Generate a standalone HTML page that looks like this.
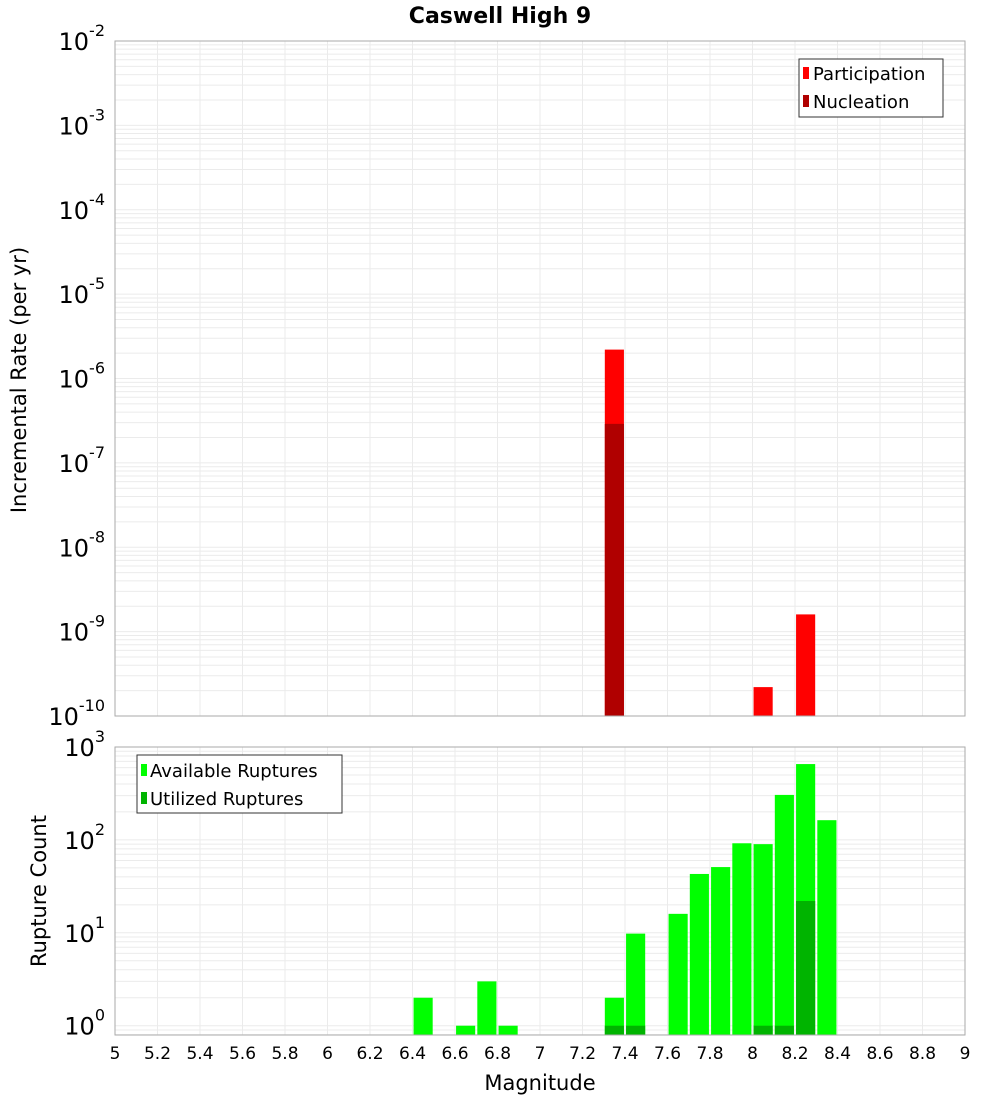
<!DOCTYPE html>
<html><head><meta charset="utf-8"><style>
body{margin:0;background:#fff;}
svg{display:block;font-family:"DejaVu Sans","Liberation Sans",sans-serif;}
</style></head><body>
<svg id="chart" width="1000" height="1100" xmlns="http://www.w3.org/2000/svg"></svg>
<script>
const mags = [6.45,6.65,6.75,6.85,7.35,7.45,7.65,7.75,7.85,7.95,8.05,8.15,8.25,8.35];
const available = [2,1,3,1,2,9.8,16,43,51,92,90,305,655,163];
const utilized = [0,0,0,0,1,1,0,0,0,0,1,1,22,0];
const rateMags = [7.35,8.05,8.25];
const participation = [2.2e-6,2.2e-10,1.6e-9];
const nucleation = [2.9e-7,0,0];
const xTicks = ["5","5.2","5.4","5.6","5.8","6","6.2","6.4","6.6","6.8","7","7.2","7.4","7.6","7.8","8","8.2","8.4","8.6","8.8","9"];

const svg = document.getElementById('chart');
const NS = 'http://www.w3.org/2000/svg';
function el(tag, attrs, parent){const e=document.createElementNS(NS,tag);for(const k in attrs)e.setAttribute(k,attrs[k]);(parent||svg).appendChild(e);return e;}
const X0=115,X1=965;
const x=m=>X0+(m-5)/4*(X1-X0);
const T={top:41,bot:716,lmax:-2,lmin:-10};
const B={top:747,bot:1035,lmax:3,lmin:-0.1};
const yT=v=>T.top+(T.lmax-Math.log10(v))/(T.lmax-T.lmin)*(T.bot-T.top);
const yB=v=>B.top+(B.lmax-Math.log10(v))/(B.lmax-B.lmin)*(B.bot-B.top);

function grid(P,yf,d0,d1){
  for(let i=0;i<=20;i++){const gx=x(5+i*0.2);const l=el('line',{x1:gx,x2:gx,y1:P.top,y2:P.bot,stroke:'#ebebeb','stroke-width':1});
    }
  for(let d=d0;d<=d1;d++)for(let k=1;k<10;k++){const v=k*Math.pow(10,d);const gy=yf(v);if(gy<P.top-0.5||gy>P.bot+0.5)continue;
    const l=el('line',{x1:X0,x2:X1,y1:gy,y2:gy,stroke:'#ebebeb','stroke-width':1});
    }
}
grid(T,yT,-10,-3);grid(B,yB,-1,2);

const bw=0.09/4*(X1-X0);
// top bars
rateMags.forEach((m,i)=>{
  const r=el('rect',{x:x(m)-bw/2,y:yT(participation[i]),width:bw,height:T.bot-yT(participation[i]),fill:'#ff0000'});
  
  if(nucleation[i]>0){const n=el('rect',{x:x(m)-bw/2,y:yT(nucleation[i]),width:bw,height:T.bot-yT(nucleation[i]),fill:'#b00000'});
    }
});
mags.forEach((m,i)=>{
  const r=el('rect',{x:x(m)-bw/2,y:yB(available[i]),width:bw,height:B.bot-yB(available[i]),fill:'#00ff00'});
  
  if(utilized[i]>0){const u=el('rect',{x:x(m)-bw/2,y:yB(utilized[i]),width:bw,height:B.bot-yB(utilized[i]),fill:'#00b400'});
    }
});
// frames
[T,B].forEach(P=>{const f=el('rect',{x:X0,y:P.top,width:X1-X0,height:P.bot-P.top,fill:'none',stroke:'#aaaaaa','stroke-width':1});
  });

function ylab(yy,exp){const t=el('text',{x:105,y:yy+9,'text-anchor':'end','font-size':24,fill:'#000'});
  
  t.textContent='10';const s=el('tspan',{dy:-14,'font-size':16},t);s.textContent=exp;}
for(let d=-2;d>=-10;d--)ylab(yT(Math.pow(10,d)),String(d));
for(let d=3;d>=0;d--)ylab(yB(Math.pow(10,d)),String(d));
xTicks.forEach(s=>{const t=el('text',{x:x(parseFloat(s)),y:1059,'text-anchor':'middle','font-size':17,fill:'#000'});
  t.textContent=s;});
</script>
<svg style="position:absolute;left:0;top:0" width="1000" height="1100" xmlns="http://www.w3.org/2000/svg" font-family="DejaVu Sans, Liberation Sans, sans-serif">
<text x="500" y="23" text-anchor="middle" font-size="22" font-weight="bold">Caswell High 9</text>
<text x="540" y="1090" text-anchor="middle" font-size="21">Magnitude</text>
<text transform="translate(26,380) rotate(-90)" text-anchor="middle" font-size="21">Incremental Rate (per yr)</text>
<text transform="translate(46,891) rotate(-90)" text-anchor="middle" font-size="21">Rupture Count</text>
<g>
<rect x="799" y="59" width="144" height="58" fill="#fff" stroke="#333"/>
<rect x="803" y="67" width="6" height="12" fill="#ff0000"/>
<text x="813" y="80" font-size="18">Participation</text>
<rect x="803" y="95" width="6" height="12" fill="#b00000"/>
<text x="813" y="108" font-size="18">Nucleation</text>
</g>
<g>
<rect x="137" y="755" width="205" height="58" fill="#fff" stroke="#333"/>
<rect x="141" y="764" width="6" height="12" fill="#00ff00"/>
<text x="150" y="777" font-size="18">Available Ruptures</text>
<rect x="141" y="792" width="6" height="12" fill="#00b400"/>
<text x="150" y="805" font-size="18">Utilized Ruptures</text>
</g>
</svg>
</body></html>
